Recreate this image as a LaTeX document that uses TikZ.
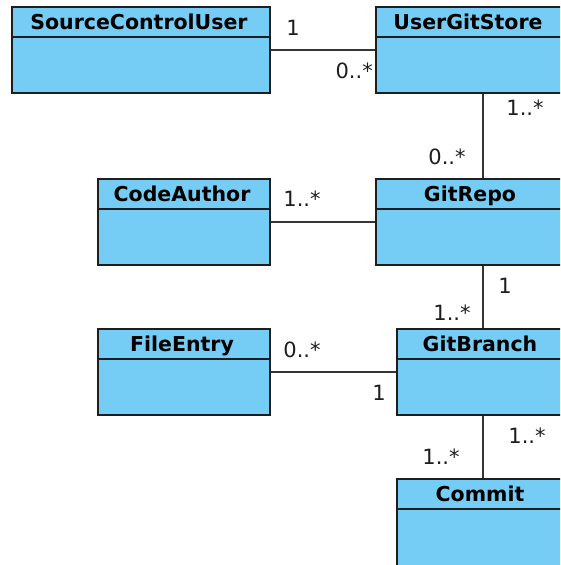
\documentclass[tikz,border=0pt]{standalone}
\usepackage{fontspec}
\setmainfont{DejaVu Sans}
\definecolor{clsfill}{RGB}{117,205,245}
\definecolor{edge}{RGB}{30,30,30}
\tikzset{
  clsbox/.style={draw=edge, fill=clsfill, line width=1.9pt, anchor=north west, inner sep=0pt},
  clstitle/.style={anchor=base, inner sep=0pt, font=\fontsize{20.5}{24}\selectfont\bfseries},
  divider/.style={draw=edge, line width=1.9pt},
  assoc/.style={draw=edge!90, line width=1.8pt},
  mult/.style={font=\fontsize{21}{24}\selectfont, inner sep=0pt, text=edge}
}
% name, x, y (top), width, height, title centre x, title
\newcommand{\umlclass}[7]{%
  \node[clsbox, minimum width=#4pt, minimum height=#5pt] (#1) at (#2,#3) {};
  \node[clstitle] (#1-t) at (#6,#3+23.5) {#7};
  \path[divider] (#2,#3+31) -- (#2+#4,#3+31);
}
\begin{document}
\begin{tikzpicture}[x=1pt, y=-1pt]
\useasboundingbox (0,0) rectangle (560,565);
\clip (0,0) rectangle (560,565);
\umlclass{scu}{11}{6}{258}{86}{139}{SourceControlUser}
\umlclass{ugs}{375}{6}{200}{86}{468}{UserGitStore}
\umlclass{ca}{97}{178}{172}{86}{182}{CodeAuthor}
\umlclass{repo}{375}{178}{200}{86}{470}{GitRepo}
\umlclass{fe}{97}{328}{172}{86}{182}{FileEntry}
\umlclass{br}{396}{328}{180}{86}{480}{GitBranch}
\umlclass{cm}{396}{478}{180}{100}{480}{Commit}
\coordinate (vx) at (483,0);
% connectors
\draw[assoc] (scu.east) -- (scu.east -| ugs.west);
\draw[assoc] (vx |- ugs.south) -- (vx |- repo.north);
\draw[assoc] (ca.east) -- (ca.east -| repo.west);
\draw[assoc] (vx |- repo.south) -- (vx |- br.north);
\draw[assoc] (fe.east) -- (fe.east -| br.west);
\draw[assoc] (vx |- br.south) -- (vx |- cm.north);
% multiplicities
\node[mult] (m1) at (293,28) {1};
\node[mult, anchor=east] (m2) at (373,71) {0..*};
\node[mult] (m3) at (525,108) {1..*};
\node[mult] (m4) at (447,157) {0..*};
\node[mult] (m5) at (302,199) {1..*};
\node[mult] (m6) at (505,286) {1};
\node[mult] (m7) at (452,313) {1..*};
\node[mult] (m8) at (302,350) {0..*};
\node[mult] (m9) at (379,393) {1};
\node[mult] (m10) at (527,436) {1..*};
\node[mult] (m11) at (441,457) {1..*};
\end{tikzpicture}
\end{document}
